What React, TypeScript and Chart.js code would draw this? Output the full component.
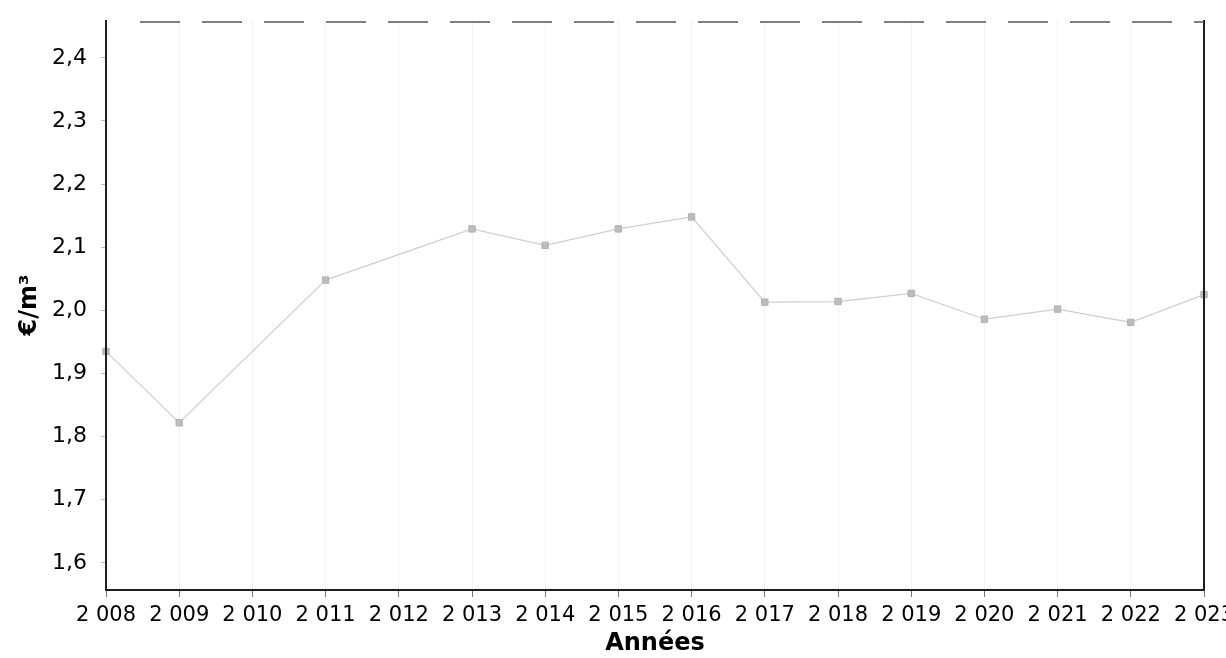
import React, { useEffect, useRef } from "react";
import { Chart, registerables } from "chart.js";

Chart.register(...registerables);

const years = ["2 008", "2 009", "2 010", "2 011", "2 012", "2 013", "2 014", "2 015", "2 016", "2 017", "2 018", "2 019", "2 020", "2 021", "2 022", "2 023"];
const prices: (number | null)[] = [1.935, 1.822, null, 2.048, null, 2.129, 2.103, 2.129, 2.148, 2.013, 2.014, 2.027, 1.986, 2.002, 1.981, 2.025];
const yTicks = [1.6, 1.7, 1.8, 1.9, 2.0, 2.1, 2.2, 2.3, 2.4];
const yTitle = "€/m³";
const xTitle = "Années";

const FONT = "'DejaVu Sans', sans-serif";

const framePlugin = {
  id: "frame",
  afterDatasetsDraw(chart: any) {
    const { ctx, chartArea } = chart;
    const { left, right, top, bottom } = chartArea;
    ctx.save();
    ctx.strokeStyle = "#1e1e1e";
    ctx.lineWidth = 2;
    ctx.beginPath();
    ctx.moveTo(left, top);
    ctx.lineTo(left, bottom);
    ctx.lineTo(right, bottom);
    ctx.lineTo(right, top);
    ctx.stroke();
    ctx.setLineDash([40, 22]);
    ctx.strokeStyle = "#555";
    ctx.lineWidth = 1.5;
    ctx.beginPath();
    ctx.moveTo(left + 34, top + 2);
    ctx.lineTo(right, top + 2);
    ctx.stroke();
    ctx.restore();
  },
};

export default function App() {
  const ref = useRef<HTMLCanvasElement | null>(null);
  useEffect(() => {
    if (!ref.current) return;
    const chart = new Chart(ref.current, {
      type: "line",
      data: {
        labels: years,
        datasets: [
          {
            data: prices,
            borderColor: "#cfcfcf",
            borderWidth: 1.2,
            pointStyle: "rect",
            pointRadius: 4.5,
            pointBackgroundColor: "#bdbdbd",
            pointBorderColor: "#b0b0b0",
            pointBorderWidth: 1,
            spanGaps: true,
            tension: 0,
          },
        ],
      },
      options: {
        animation: false,
        responsive: false,
        maintainAspectRatio: false,
        layout: { padding: { top: 20, right: 22, left: 0, bottom: 0 } },
        plugins: { legend: { display: false }, tooltip: { enabled: false } },
        scales: {
          x: {
            type: "category",
            offset: false,
            border: { display: false },
            grid: {
              display: true,
              color: "rgba(0,0,0,0.05)",
              lineWidth: 1,
              drawTicks: true,
              tickLength: 7,
              tickColor: "#777",
            },
            ticks: {
              autoSkip: false,
              maxRotation: 0,
              minRotation: 0,
              padding: 6,
              color: "#000",
              font: { family: FONT, size: 21 },
            },
            title: {
              display: true,
              text: xTitle,
              color: "#000",
              font: { family: FONT, size: 24, weight: "bold" },
              padding: { top: 0, bottom: 0 },
            },
            afterFit(scale: any) {
              scale.height = 68;
              scale.paddingLeft = 0;
              scale.paddingRight = 0;
            },
          },
          y: {
            min: 1.557,
            max: 2.46,
            border: { display: false },
            afterBuildTicks(scale: any) {
              scale.ticks = yTicks.map((v) => ({ value: v }));
            },
            grid: {
              display: true,
              drawOnChartArea: false,
              drawTicks: true,
              tickLength: 5,
              tickColor: "#bbb",
            },
            ticks: {
              padding: 14,
              color: "#000",
              font: { family: FONT, size: 22 },
              callback: (v: any) => Number(v).toFixed(1).replace(".", ","),
            },
            title: {
              display: true,
              text: yTitle,
              color: "#000",
              font: { family: FONT, size: 24, weight: "bold" },
              padding: { top: 15, bottom: 0 },
            },
            afterFit(scale: any) {
              scale.width = 106;
              scale.paddingTop = 0;
              scale.paddingBottom = 0;
            },
          },
        },
      },
      plugins: [framePlugin],
    } as any);
    return () => chart.destroy();
  }, []);
  return (
    <div style={{ position: "fixed", left: 0, top: 0, width: 1226, height: 658, background: "#fff" }}>
      <canvas ref={ref} width={1226} height={658} style={{ width: 1226, height: 658, display: "block" }} />
    </div>
  );
}
